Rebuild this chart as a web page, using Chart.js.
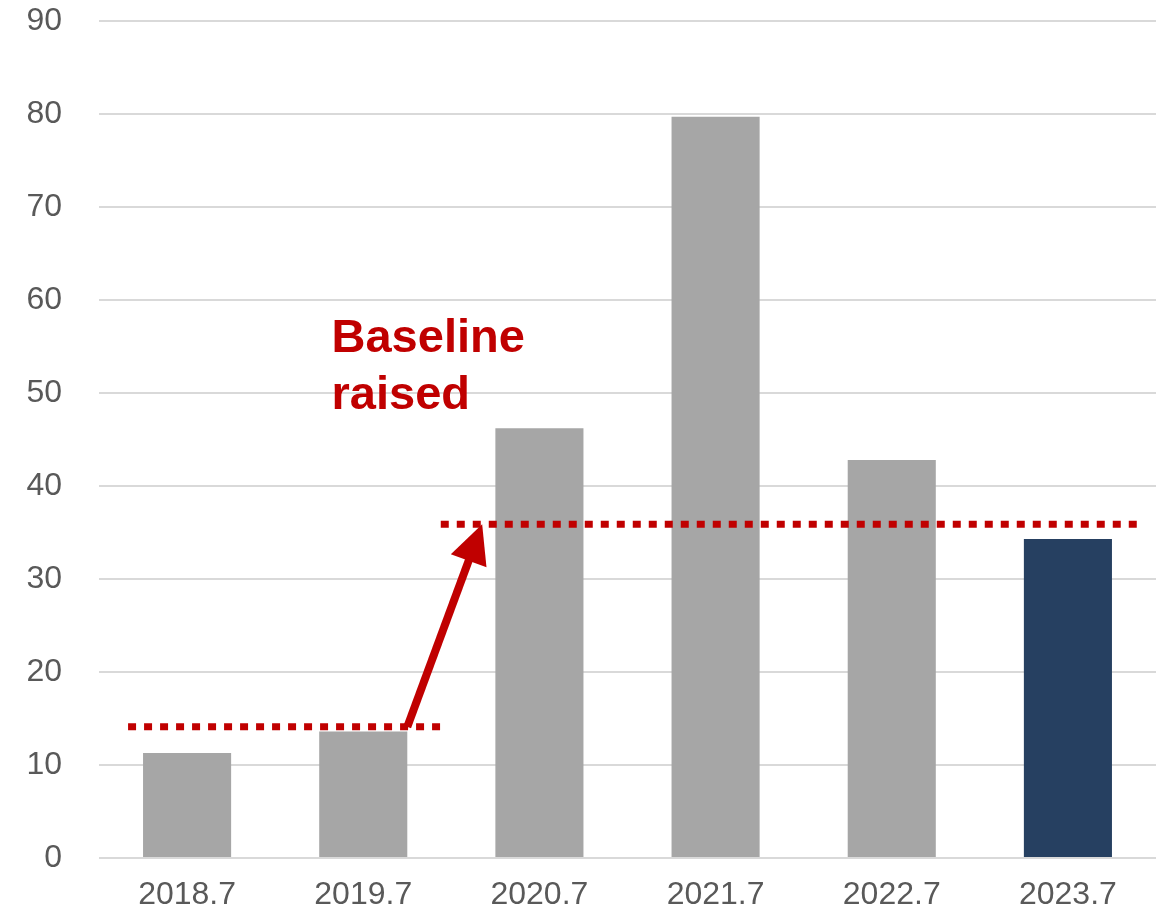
<!DOCTYPE html>
<html>
<head>
<meta charset="utf-8">
<script src="https://cdn.jsdelivr.net/npm/chart.js@4/dist/chart.umd.min.js"></script>
<style>
  html, body { margin: 0; padding: 0; background: #ffffff; }
  #wrap { width: 1166px; height: 923px; position: relative; }
</style>
</head>
<body>
<div id="wrap"><canvas id="c" width="1166" height="923"></canvas></div>
<script>
// ---- data ----
const categories = ['2018.7', '2019.7', '2020.7', '2021.7', '2022.7', '2023.7'];
const values = [11.3, 13.6, 46.2, 79.7, 42.8, 34.3];
const yTicks = [0, 10, 20, 30, 40, 50, 60, 70, 80, 90];
// baselines: [start category position, end category position, value]
const baselineOld = [-0.335, 1.44, 14.1];
const baselineNew = [1.44, 5.395, 35.9];
// arrow: [from x, from y, to x, to y] in category position / value units
const arrowPath = [1.25, 14.1, 1.675, 35.9];
const annotationLines = ['Baseline', 'raised'];
const annotationAnchor = [0.82, 54.4]; // left x (category pos), first-line baseline value

const barColors = ['#A6A6A6', '#A6A6A6', '#A6A6A6', '#A6A6A6', '#A6A6A6', '#264061'];
const RED = '#C00000';

const overlay = {
  id: 'overlay',
  afterDatasetsDraw(chart) {
    const { ctx, scales: { x, y } } = chart;
    const px = v => x.getPixelForValue(v);
    ctx.save();
    // dotted baselines
    ctx.strokeStyle = RED;
    ctx.lineWidth = 7;
    ctx.lineCap = 'butt';
    ctx.setLineDash([8, 8]);
    [baselineOld, baselineNew].forEach(b => {
      ctx.beginPath();
      ctx.moveTo(px(b[0]), y.getPixelForValue(b[2]));
      ctx.lineTo(px(b[1]), y.getPixelForValue(b[2]));
      ctx.stroke();
    });
    ctx.setLineDash([]);
    // arrow
    const x1 = px(arrowPath[0]), y1 = y.getPixelForValue(arrowPath[1]);
    const x2 = px(arrowPath[2]), y2 = y.getPixelForValue(arrowPath[3]);
    const ang = Math.atan2(y2 - y1, x2 - x1);
    const headLen = 39, headHalf = 19;
    const bx = x2 - headLen * Math.cos(ang), by = y2 - headLen * Math.sin(ang);
    ctx.lineWidth = 8;
    ctx.beginPath();
    ctx.moveTo(x1, y1);
    ctx.lineTo(bx + 2 * Math.cos(ang), by + 2 * Math.sin(ang));
    ctx.stroke();
    ctx.fillStyle = RED;
    ctx.beginPath();
    ctx.moveTo(x2, y2);
    ctx.lineTo(bx + headHalf * Math.sin(ang), by - headHalf * Math.cos(ang));
    ctx.lineTo(bx - headHalf * Math.sin(ang), by + headHalf * Math.cos(ang));
    ctx.closePath();
    ctx.fill();
    // annotation text
    ctx.font = 'bold 47px "Liberation Sans", Arial, sans-serif';
    ctx.textAlign = 'left';
    ctx.textBaseline = 'alphabetic';
    const tx = px(annotationAnchor[0]);
    const ty = y.getPixelForValue(annotationAnchor[1]);
    annotationLines.forEach((t, i) => ctx.fillText(t, tx, ty + i * 57));
    ctx.restore();
  }
};

const tickFont = { family: '"Liberation Sans", Arial, sans-serif', size: 32 };

new Chart(document.getElementById('c'), {
  type: 'bar',
  data: {
    labels: categories,
    datasets: [{
      data: values,
      backgroundColor: barColors,
      borderWidth: 0,
      barPercentage: 0.5,
      categoryPercentage: 1.0
    }]
  },
  options: {
    responsive: false,
    animation: false,
    devicePixelRatio: 1,
    layout: { padding: { left: 0, right: 10, top: 21, bottom: 0 } },
    plugins: { legend: { display: false }, tooltip: { enabled: false } },
    scales: {
      x: {
        grid: { display: false, drawTicks: false },
        border: { display: false },
        ticks: { color: '#595959', padding: 18, font: tickFont, maxRotation: 0 },
        afterFit: s => { s.height = 65; s.paddingLeft = 0; s.paddingRight = 0; }
      },
      y: {
        min: 0,
        max: 90,
        afterBuildTicks: s => { s.ticks = yTicks.map(v => ({ value: v })); },
        grid: { color: '#D9D9D9', lineWidth: 2, drawTicks: false },
        border: { display: false },
        ticks: { color: '#595959', padding: 37, font: tickFont },
        afterFit: s => { s.width = 99; s.paddingTop = 0; s.paddingBottom = 0; }
      }
    }
  },
  plugins: [overlay]
});
</script>
</body>
</html>
